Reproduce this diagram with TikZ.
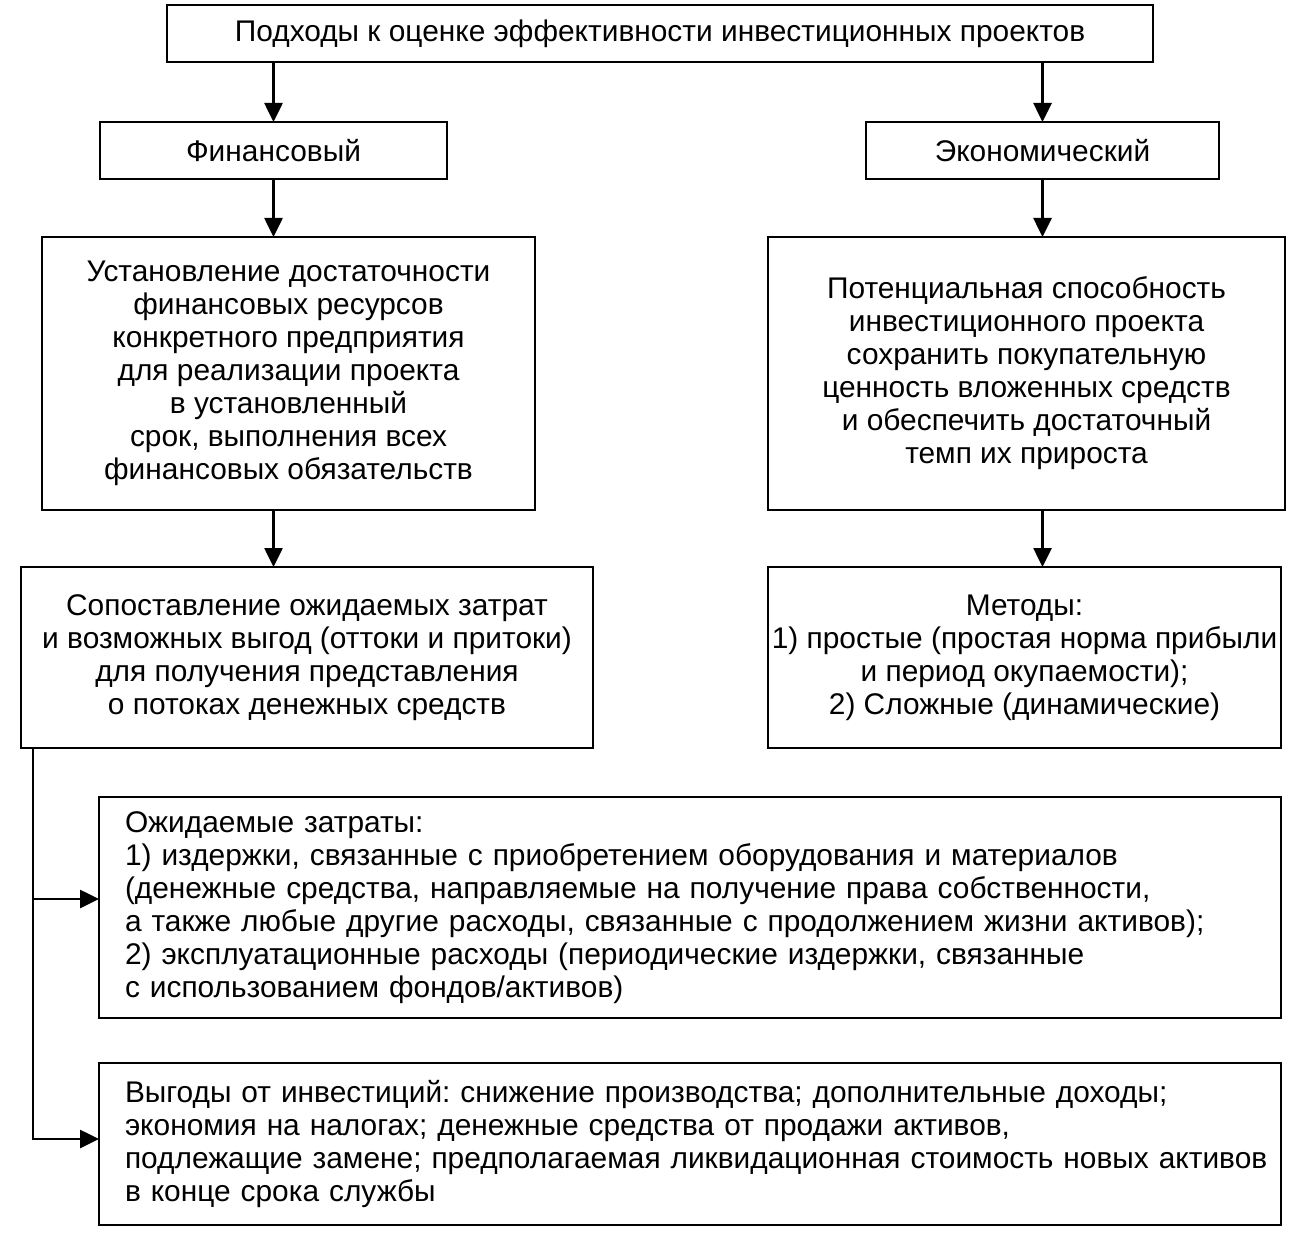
\documentclass[tikz,border=0pt]{standalone}
\usepackage{fontspec}
\setmainfont{Liberation Sans}
\usetikzlibrary{positioning, arrows.meta}
\tikzset{
    box/.style={draw, line width=1.5pt, minimum height=1.14cm, inner sep=0pt, outer sep=0pt, align=center, font=\fontsize{17}{18.8}\selectfont\frenchspacing},
    leftbox/.style={box, text width=22.6cm, inner xsep=0.52cm, align=left},
    link/.style={line width=1.5pt, -{Triangle[length=0.38cm, width=0.36cm]}}
}

\begin{document}
\begin{tikzpicture}
	\useasboundingbox (0,0) rectangle (25.98,-25.18);
	\node(Top)[box, minimum width=19.72cm] at (13.2,-0.67) {Подходы к оценке эффективности инвестиционных проектов};
	\node(Fin)[box, minimum width=6.94cm, below=1.2cm of Top, xshift=-7.73cm]{Финансовый};
	\node(Eco)[box, minimum width=7.06cm, below=1.2cm of Top, xshift=7.65cm]{Экономический};
	\node(Ust)[box, minimum width=9.86cm, minimum height=5.46cm, below=1.16cm of Fin, xshift=0.3cm]{Установление достаточности\\финансовых ресурсов\\конкретного предприятия\\для реализации проекта\\в установленный\\срок, выполнения всех\\финансовых обязательств};
	\node(Pot)[box, minimum width=10.34cm, minimum height=5.46cm, below=1.16cm of Eco, xshift=-0.32cm]{Потенциальная способность\\инвестиционного проекта\\сохранить покупательную\\ценность вложенных средств\\и обеспечить достаточный\\темп их прироста};
	\node(Sop)[box, minimum width=11.44cm, minimum height=3.62cm, below=1.14cm of Ust, xshift=0.37cm]{Сопоставление ожидаемых затрат\\и возможных выгод (оттоки и притоки)\\для получения представления\\о потоках денежных средств};
	\node(Met)[box, minimum width=10.26cm, minimum height=3.62cm, below=1.14cm of Pot, xshift=-0.04cm]{Методы:\\1) простые (простая норма прибыли\\и период окупаемости);\\2) Сложные (динамические)};
	\node(Exp)[leftbox, minimum height=4.42cm, below=0.98cm of Sop, xshift=7.66cm]{Ожидаемые затраты:\\1) издержки, связанные с приобретением оборудования и материалов\\(денежные средства, направляемые на получение права собственности,\\а также любые другие расходы, связанные с продолжением жизни активов);\\2) эксплуатационные расходы (периодические издержки, связанные\\с использованием фондов/активов)};
	\node(Ben)[leftbox, minimum height=3.24cm, below=0.9cm of Exp]{Выгоды от инвестиций: снижение производства; дополнительные доходы;\\экономия на налогах; денежные средства от продажи активов,\\\mbox{подлежащие замене; предполагаемая ликвидационная стоимость новых активов}\\в конце срока службы};
	\coordinate(Split) at ([xshift=0.24cm]Sop.south west);
	\coordinate(ExpIn) at ([yshift=0.17cm]Exp.west);
	\coordinate(BenIn) at ([yshift=0.1cm]Ben.west);
	\draw[link](Top.south -| Fin.north)--(Fin.north);
	\draw[link](Top.south -| Eco.north)--(Eco.north);
	\draw[link](Fin.south)--(Fin.south |- Ust.north);
	\draw[link](Eco.south)--(Eco.south |- Pot.north);
	\draw[link](Fin.south |- Ust.south)--(Fin.south |- Sop.north);
	\draw[link](Eco.south |- Pot.south)--(Eco.south |- Met.north);
	\draw[link](Split) |- (BenIn);
	\draw[link](Split |- ExpIn)--(ExpIn);
\end{tikzpicture}
\end{document}
